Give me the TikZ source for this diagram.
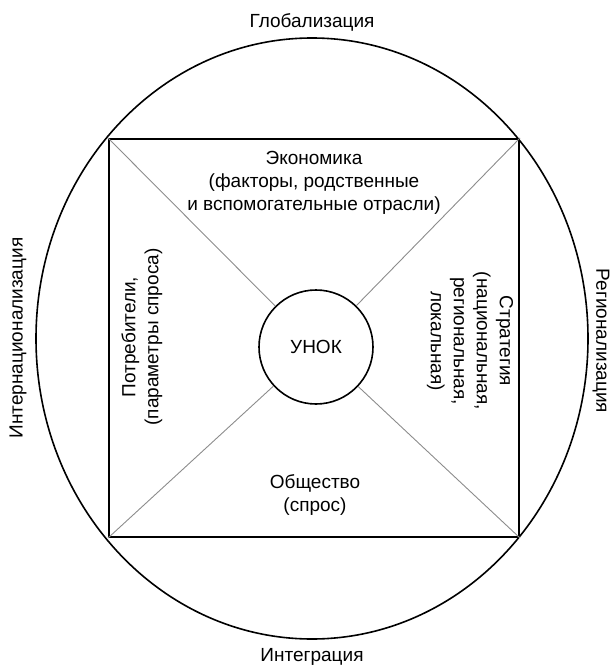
\documentclass[tikz,border=0pt]{standalone}
\usepackage{fontspec}
\setmainfont{Liberation Sans}
\usetikzlibrary{shapes.geometric, positioning}

\tikzset{
    label text/.style={font=\fontsize{19}{23}\selectfont, align=center},
    diagonal/.style={draw=black!45, line width=0.9pt}
}

\begin{document}
\begin{tikzpicture}[x=1pt, y=-1pt, label text]
    \useasboundingbox (0,0) rectangle (611,666);

    \node[draw, ellipse, line width=1.6pt, minimum width=552pt, minimum height=601pt] (world) at (312,338.5) {};
    \node[draw, line width=2.2pt, minimum width=410pt, minimum height=398pt] (market) at (314,338) {};
    \node[above=2pt of world] (globalization) {Глобализация};
    \node[below=5pt of world] (integration) {Интеграция};
    \node[rotate=90] (internationalization) at (18,338) {Интернационализация};
    \node[rotate=-90] (regionalization) at (601,341) {Регионализация};

    \node[draw, circle, fill=white, line width=1.6pt, minimum size=114pt] (unok) at (316,347) {УНОК};
    \draw[diagonal] (market.north west) -- (unok);
    \draw[diagonal] (market.north east) -- (unok);
    \draw[diagonal] (market.south west) -- (unok);
    \draw[diagonal] (market.south east) -- (unok);

    \node (economy) at (314,183) {Экономика\\(факторы, родственные\\и вспомогательные отрасли)};
    \node (society) at (315,495) {Общество\\(спрос)};
    \node[rotate=90] (consumers) at (142,337) {Потребители,\\(параметры спроса)};
    \node[rotate=-90] (strategy) at (470,341) {Стратегия\\(национальная,\\региональная,\\локальная)};
\end{tikzpicture}
\end{document}
